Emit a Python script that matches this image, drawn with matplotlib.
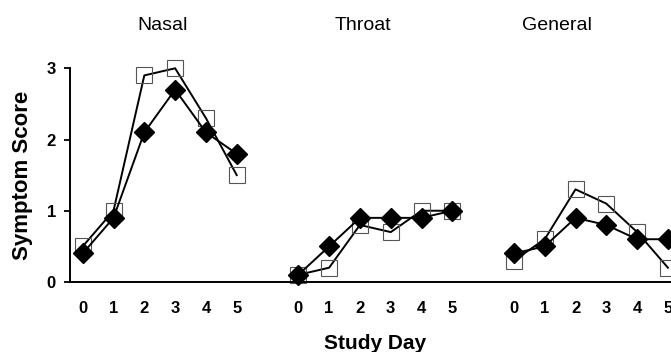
import matplotlib

matplotlib.use("Agg")
import matplotlib.pyplot as plt

plt.rcParams["font.family"] = ["Liberation Sans", "DejaVu Sans"]

# symptom scores per study day, two groups (filled diamond / open square)
days = [0, 1, 2, 3, 4, 5]
panels = ["Nasal", "Throat", "General"]
diamond_scores = [
    [0.4, 0.9, 2.1, 2.7, 2.1, 1.8],
    [0.1, 0.5, 0.9, 0.9, 0.9, 1.0],
    [0.4, 0.5, 0.9, 0.8, 0.6, 0.6],
]
square_scores = [
    [0.5, 1.0, 2.9, 3.0, 2.3, 1.5],
    [0.1, 0.2, 0.8, 0.7, 1.0, 1.0],
    [0.3, 0.6, 1.3, 1.1, 0.7, 0.2],
]
y_ticks = [0, 1, 2, 3]

GROUP_STEP = 7  # 6 days + gap between panels
title_x = [2.6, 9.1, 15.4]

fig = plt.figure(figsize=(6.71, 3.52), dpi=100)
ax = fig.add_axes([0.104, 0.199, 0.896, 0.607])

xticks, xlabels = [], []
for i, name in enumerate(panels):
    xs = [d + i * GROUP_STEP for d in days]
    ax.plot(xs, square_scores[i], color="black", lw=1.4, marker="s", ms=11,
            mfc="none", mec="#555555", mew=0.8, clip_on=False, zorder=2)
    ax.plot(xs, diamond_scores[i], color="black", lw=1.4, marker="D", ms=10.5,
            mfc="black", mec="black", clip_on=False, zorder=3)
    ax.text(title_x[i], 3.6, name, ha="center", va="center", fontsize=14)
    xticks += xs
    xlabels += [str(d) for d in days]

ax.set_xlim(-0.42, 19.1)
ax.set_ylim(0, 3)
ax.set_xticks(xticks)
ax.set_xticklabels(xlabels, fontsize=12, fontweight="bold")
ax.set_yticks(y_ticks)
ax.set_yticklabels([str(t) for t in y_ticks], fontsize=12, fontweight="bold")
ax.tick_params(axis="x", length=0, pad=14)
ax.tick_params(axis="y", length=4, width=1.3, pad=6)

for side in ("top", "right"):
    ax.spines[side].set_visible(False)
ax.spines["left"].set_linewidth(1.4)
ax.spines["bottom"].set_linewidth(1.4)

ax.set_ylabel("Symptom Score", fontsize=16, fontweight="bold", labelpad=10)
fig.text(0.559, 0.025, "Study Day", ha="center", va="center",
         fontsize=15, fontweight="bold")

fig.savefig("out.png", dpi=100)
